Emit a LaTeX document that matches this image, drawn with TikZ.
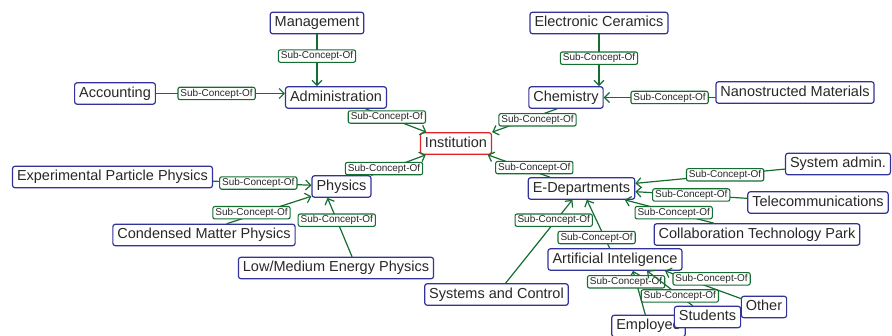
\documentclass[tikz,border=0pt]{standalone}
\usepackage{fontspec}
\setmainfont{Liberation Sans}
\usepackage{tikz}
\usetikzlibrary{arrows.meta}
\definecolor{conceptblue}{RGB}{50,50,155}
\definecolor{rootred}{RGB}{225,35,40}
\definecolor{relgreen}{RGB}{20,110,50}
\definecolor{textgray}{RGB}{40,40,40}

\begin{document}
\begin{tikzpicture}[x=1pt,y=-1pt,line cap=round,line join=round,
  concept/.style={draw=conceptblue,line width=1.2pt,rounded corners=2.5pt,fill=white,
    text=textgray,font=\fontsize{14.5}{16}\selectfont,inner xsep=4.5pt,inner ysep=4pt,
    text height=10.5pt,text depth=3pt},
  root/.style={concept,draw=rootred},
  rel/.style={draw=relgreen,line width=1.2pt,-{Straight Barb[length=5pt,width=10pt]}},
  lbl/.style={draw=relgreen,line width=1.1pt,rounded corners=2pt,fill=white,text=textgray,
    font=\fontsize{10}{11}\selectfont,inner xsep=2.5pt,inner ysep=1.5pt,
    text height=7.3pt,text depth=2.1pt}]
\useasboundingbox (0,0) rectangle (892,336);

% concepts
\node[root] (inst) at (456,143.5) {Institution};
\node[concept] (mgmt) at (317,23) {Management};
\node[concept] (adm) at (336,97.5) {Administration};
\node[concept] (acc) at (115,93.5) {Accounting};
\node[concept] (elc) at (599,23) {Electronic Ceramics};
\node[concept] (chem) at (566,97.5) {Chemistry};
\node[concept] (nano) at (795,92.5) {Nanostructed Materials};
\node[concept] (phys) at (341.5,186.5) {Physics};
\node[concept] (epp) at (112.5,177) {Experimental Particle Physics};
\node[concept] (cmp) at (204,235) {Condensed Matter Physics};
\node[concept] (lmep) at (336,268) {Low/Medium Energy Physics};
\node[concept] (edep) at (581.5,188.5) {E-Departments};
\node[concept] (sysadm) at (838,164) {System admin.};
\node[concept] (telecom) at (818,202.5) {Telecommunications};
\node[concept] (ctp) at (757,234.5) {Collaboration Technology Park};
\node[concept] (ai) at (615,259.5) {Artificial Inteligence};
\node[concept] (sac) at (496.5,294.5) {Systems and Control};
\node[concept] (employee) at (648.5,326) {Employee};
\node[concept] (students) at (707.5,317) {Students};
\node[concept] (other) at (764,307) {Other};

% sub-concept relations
\draw[rel] (mgmt) -- node[lbl,pos=0.42] {Sub-Concept-Of} (mgmt |- adm.north);
\draw[rel] (acc) -- node[lbl,pos=0.47] {Sub-Concept-Of} (acc -| adm.west);
\draw[rel] (adm) -- node[lbl,pos=0.35] {Sub-Concept-Of} (inst);
\draw[rel] (phys) -- node[lbl,pos=0.23,yshift=2pt] {Sub-Concept-Of} (inst);
\draw[rel] ([xshift=-9pt]chem.south) -- node[lbl,pos=0.3,yshift=-4pt] {Sub-Concept-Of} (inst.north east);
\draw[rel] (edep) -- node[lbl,pos=0.25,yshift=4pt] {Sub-Concept-Of} (inst);
\draw[rel] (elc) -- node[lbl,pos=0.46] {Sub-Concept-Of} (elc |- chem.north);
\draw[rel] (nano.west |- chem) -- node[lbl,pos=0.41] {Sub-Concept-Of} (chem);
\draw[rel] (epp) -- node[lbl,pos=0.46] {Sub-Concept-Of} (phys);
\draw[rel] ([xshift=23pt]cmp.north) -- node[lbl,pos=0.29,yshift=3pt] {Sub-Concept-Of} (phys);
\draw[rel] ([xshift=16pt]lmep.north) -- node[lbl,pos=0.62] {Sub-Concept-Of} ([xshift=-14pt]phys.south);
\draw[rel] (sysadm) -- node[lbl,pos=0.4] {Sub-Concept-Of} (edep);
\draw[rel] (telecom) -- node[lbl,pos=0.5] {Sub-Concept-Of} (edep);
\draw[rel] (ctp) -- node[lbl,pos=0.45] {Sub-Concept-Of} (edep);
\draw[rel] (sac) -- node[lbl,pos=0.72,yshift=3pt] {Sub-Concept-Of} (edep);
\draw[rel] (ai) -- node[lbl,pos=0.22,xshift=-8pt] {Sub-Concept-Of} (edep);
\draw[rel] (employee) -- node[lbl,pos=0.75,xshift=-10pt] {Sub-Concept-Of} ([xshift=18pt]ai.south);
\draw[rel] (students) -- node[lbl,pos=0.28] {Sub-Concept-Of} ([xshift=32pt]ai.south);
\draw[rel] (other) -- node[lbl,pos=0.385,yshift=9pt] {Sub-Concept-Of} ([xshift=50pt]ai.south);

\end{tikzpicture}
\end{document}
